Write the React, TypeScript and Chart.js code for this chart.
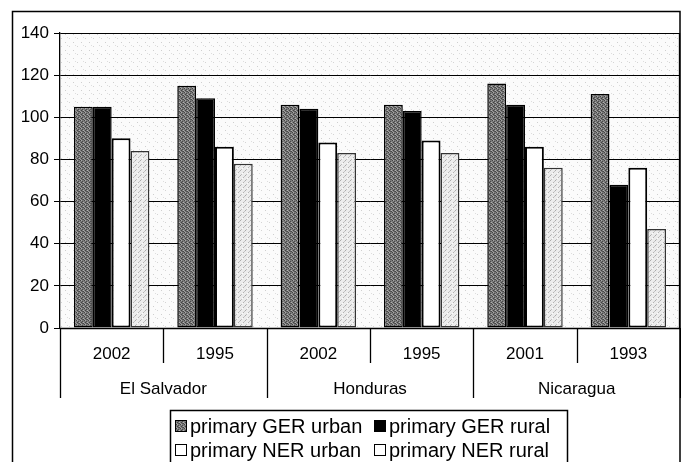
import React, { useEffect, useRef } from "react";
import { Chart, registerables } from "chart.js";

Chart.register(...registerables);

const years = ["2002", "1995", "2002", "1995", "2001", "1993"];
const countries = ["El Salvador", "Honduras", "Nicaragua"];
const gerUrban = [105, 115, 106, 106, 116, 111];
const gerRural = [105, 109, 104, 103, 106, 68];
const nerUrban = [90, 86, 88, 89, 86, 76];
const nerRural = [84, 78, 83, 83, 76, 47];
const seriesNames = ["primary GER urban", "primary GER rural", "primary NER urban", "primary NER rural"];
const yTicks = [0, 20, 40, 60, 80, 100, 120, 140];

const FONT = "'Liberation Sans', Arial, sans-serif";

function makePattern(bg: string, dots: [number, number, string][], size: number): CanvasPattern | string {
  const c = document.createElement("canvas");
  c.width = size;
  c.height = size;
  const g = c.getContext("2d");
  if (!g) return bg;
  g.fillStyle = bg;
  g.fillRect(0, 0, size, size);
  for (const [x, y, col] of dots) {
    g.fillStyle = col;
    g.fillRect(x, y, 1, 1);
  }
  const p = g.createPattern(c, "repeat");
  return p || bg;
}

export default function App() {
  const ref = useRef<HTMLCanvasElement | null>(null);

  useEffect(() => {
    const canvas = ref.current;
    if (!canvas) return;

    const darkPat = makePattern("#7a7a7a", [
      [0, 0, "#444"], [2, 1, "#4a4a4a"], [1, 2, "#404040"], [3, 3, "#484848"],
      [1, 0, "#a8a8a8"], [3, 2, "#b0b0b0"], [0, 3, "#9c9c9c"], [2, 3, "#555"],
    ], 4);
    const lightPat = makePattern("#ececec", [
      [0, 0, "#aaaaaa"], [3, 2, "#b4b4b4"], [1, 4, "#c0c0c0"], [4, 1, "#c4c4c4"], [2, 3, "#fafafa"],
    ], 5);
    const bgPat = makePattern("#fbfbfb", [
      [1, 2, "#cfcfcf"], [5, 6, "#d4d4d4"], [3, 5, "#dedede"],
    ], 8);

    const fills = [darkPat, "#000000", "#ffffff", lightPat];
    const legendFills = [darkPat, "#000000", "#ffffff", "#ffffff"];

    const frame = {
      id: "frame",
      beforeDraw(chart: any) {
        const ctx = chart.ctx;
        const a = chart.chartArea;
        ctx.save();
        ctx.fillStyle = "#fff";
        ctx.fillRect(0, 0, chart.width, chart.height);
        ctx.fillStyle = bgPat;
        ctx.fillRect(a.left, a.top, a.right - a.left, a.bottom - a.top);
        ctx.strokeStyle = "#000";
        ctx.lineWidth = 1.5;
        ctx.strokeRect(12.5, 11.5, 667.5, 470);
        ctx.restore();
      },
      afterDraw(chart: any) {
        const ctx = chart.ctx;
        const a = chart.chartArea;
        const x = chart.scales.x;
        ctx.save();
        ctx.strokeStyle = "#000";
        ctx.lineWidth = 1.3;
        ctx.fillStyle = "#000";
        ctx.textAlign = "center";
        ctx.textBaseline = "middle";
        ctx.beginPath();
        ctx.moveTo(a.left, a.bottom + 0.5);
        ctx.lineTo(a.right, a.bottom + 0.5);
        ctx.moveTo(a.right - 0.5, a.top);
        ctx.lineTo(a.right - 0.5, a.bottom);
        ctx.stroke();
        const centers = years.map((_, i) => x.getPixelForValue(i));
        const bounds: number[] = [a.left];
        for (let i = 0; i < centers.length - 1; i++) bounds.push((centers[i] + centers[i + 1]) / 2);
        bounds.push(a.right);
        ctx.beginPath();
        bounds.forEach((b, i) => {
          const isCountry = i % 2 === 0;
          const bx = Math.round(b) + 0.5;
          ctx.moveTo(bx, a.bottom);
          ctx.lineTo(bx, a.bottom + (isCountry ? 70 : 35));
        });
        ctx.stroke();
        ctx.font = "17px " + FONT;
        years.forEach((y, i) => ctx.fillText(y, centers[i], a.bottom + 26));
        countries.forEach((c, i) => {
          const cx = (bounds[i * 2] + bounds[i * 2 + 2]) / 2;
          ctx.fillText(c, cx, a.bottom + 61);
        });
        // legend
        const lx = 170, ly = 410;
        ctx.lineWidth = 1.5;
        ctx.strokeRect(lx + 0.5, ly + 0.5, 397, 80);
        ctx.font = "20px " + FONT;
        ctx.textAlign = "left";
        const cols = [175, 374];
        const rows = [426, 450];
        seriesNames.forEach((n, i) => {
          const cx = cols[i % 2];
          const cy = rows[Math.floor(i / 2)];
          ctx.fillStyle = legendFills[i];
          ctx.fillRect(cx, cy - 6, 12, 12);
          ctx.lineWidth = 1;
          ctx.strokeStyle = "#000";
          ctx.strokeRect(cx + 0.5, cy - 5.5, 11, 11);
          ctx.fillStyle = "#000";
          ctx.fillText(n, cx + 15, cy + 1);
        });
        ctx.restore();
      },
    };

    const chart = new Chart(canvas, {
      type: "bar",
      data: {
        labels: years,
        datasets: [gerUrban, gerRural, nerUrban, nerRural].map((d, i) => ({
          label: seriesNames[i],
          data: d,
          backgroundColor: fills[i] as any,
          borderColor: i === 3 ? "#333" : "#000",
          borderWidth: i === 2 ? 2 : 1.5,
          borderSkipped: false,
          categoryPercentage: 0.73,
          barPercentage: 1.0,
        })),
      },
      options: {
        responsive: false,
        animation: false,
        devicePixelRatio: 1,
        layout: { padding: { top: 33, left: 12, right: 1, bottom: 62 } },
        plugins: { legend: { display: false }, tooltip: { enabled: false } },
        scales: {
          x: {
            ticks: { display: false },
            grid: { display: false },
            border: { display: false },
            afterFit: (s: any) => { s.height = 72; },
          },
          y: {
            min: 0,
            max: 140,
            afterBuildTicks: (s: any) => { s.ticks = yTicks.map((v) => ({ value: v })); },
            ticks: { color: "#000", font: { family: FONT, size: 17 }, padding: 5 },
            grid: { color: "#000", lineWidth: 1, tickLength: 6, tickColor: "#000" },
            border: { display: true, color: "#000", width: 1.3 },
            afterFit: (s: any) => { s.width = 48; },
          },
        },
      },
      plugins: [frame],
    });
    return () => chart.destroy();
  }, []);

  return (
    <div style={{ position: "fixed", left: 0, top: 0, width: 681, height: 462, background: "#fff" }}>
      <canvas ref={ref} width={681} height={462} style={{ width: 681, height: 462, display: "block" }} />
    </div>
  );
}
